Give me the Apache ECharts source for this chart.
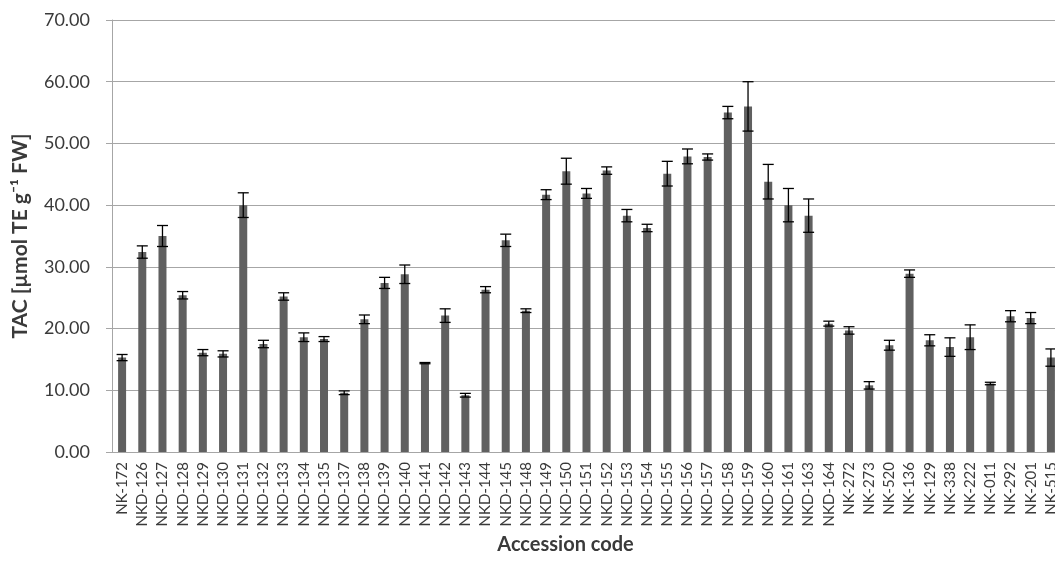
<!DOCTYPE html>
<html>
<head>
<meta charset="utf-8">
<script src="https://cdn.jsdelivr.net/npm/echarts@6/dist/echarts.min.js"></script>
<style>
  html, body { margin: 0; padding: 0; background: #fff; overflow: hidden; }
  #chartsL { width: 1055px; height: 563px; }
</style>
</head>
<body>
<div id="chartsL"></div>
<script>
// accession codes (x axis)
var codes = [
  "NK-172", "NKD-126", "NKD-127", "NKD-128", "NKD-129", "NKD-130", "NKD-131",
  "NKD-132", "NKD-133", "NKD-134", "NKD-135", "NKD-137", "NKD-138", "NKD-139",
  "NKD-140", "NKD-141", "NKD-142", "NKD-143", "NKD-144", "NKD-145", "NKD-148",
  "NKD-149", "NKD-150", "NKD-151", "NKD-152", "NKD-153", "NKD-154", "NKD-155",
  "NKD-156", "NKD-157", "NKD-158", "NKD-159", "NKD-160", "NKD-161", "NKD-163",
  "NKD-164", "NK-272", "NK-273", "NK-520", "NK-136", "NK-129", "NK-338",
  "NK-222", "NK-011", "NK-292", "NK-201", "NK-515"
];
// mean TAC values
var tac = [
  15.3, 32.4, 35.0, 25.4, 16.1, 15.9, 40.0,
  17.5, 25.2, 18.6, 18.3, 9.6, 21.5, 27.4,
  28.8, 14.4, 22.1, 9.2, 26.3, 34.3, 22.9,
  41.7, 45.5, 41.9, 45.6, 38.3, 36.3, 45.1,
  47.9, 47.8, 55.0, 56.0, 43.8, 40.0, 38.3,
  20.8, 19.7, 10.8, 17.3, 28.9, 18.1, 17.0,
  18.6, 11.1, 22.0, 21.7, 15.3
];
// standard deviation (error bars)
var sd = [
  0.5, 1.0, 1.7, 0.6, 0.5, 0.5, 2.0,
  0.6, 0.6, 0.7, 0.4, 0.3, 0.7, 0.9,
  1.5, 0.1, 1.1, 0.3, 0.5, 1.0, 0.3,
  0.8, 2.1, 0.8, 0.6, 1.0, 0.6, 2.0,
  1.2, 0.5, 1.0, 4.0, 2.8, 2.7, 2.7,
  0.4, 0.6, 0.6, 0.8, 0.6, 0.9, 1.5,
  2.0, 0.2, 0.9, 0.9, 1.4
];
var yTicks = { min: 0, max: 70, interval: 10 };

var font = "Lato, 'Noto Sans', sans-serif";
var txt = "#3a3a3a";
var gridCol = "#a6a6a6";

var errData = [];
for (var i = 0; i < tac.length; i++) {
  errData.push([i, tac[i] - sd[i], tac[i] + sd[i]]);
}

var myChart = echarts.init(document.getElementById("chartsL"));

var option = {
  animation: false,
  // plot runs past the right edge (last label is cut off in the original)
  grid: { left: 112, width: 949, top: 20, bottom: 111, outerBoundsMode: "none", containLabel: false },
  xAxis: {
    type: "category",
    data: codes,
    name: "Accession code",
    nameLocation: "middle",
    nameGap: 83,
    nameTextStyle: {
      fontFamily: font, fontWeight: "bold", fontSize: 20, color: txt,
      padding: [0, 42, 0, 0]
    },
    axisLine: { lineStyle: { color: gridCol } },
    axisTick: { show: false },
    axisLabel: {
      interval: 0,
      rotate: 90,
      margin: 10,
      fontFamily: font,
      fontSize: 15,
      color: txt
    }
  },
  yAxis: {
    type: "value",
    min: yTicks.min,
    max: yTicks.max,
    interval: yTicks.interval,
    name: "TAC [µmol TE g⁻¹ FW]",
    nameLocation: "middle",
    nameGap: 81,
    nameTextStyle: { fontFamily: font, fontWeight: "bold", fontSize: 21, color: txt },
    axisLine: { show: true, lineStyle: { color: gridCol } },
    axisTick: { show: true, length: 6, lineStyle: { color: gridCol } },
    axisLabel: {
      margin: 22,
      fontFamily: font,
      fontSize: 18,
      color: txt,
      formatter: function (v) { return v.toFixed(2); }
    },
    splitLine: { lineStyle: { color: gridCol, width: 1 } }
  },
  series: [
    {
      type: "bar",
      data: tac,
      barWidth: 8,
      itemStyle: { color: "#606060" }
    },
    {
      // error bars
      type: "custom",
      data: errData,
      z: 5,
      renderItem: function (params, api) {
        var x = api.value(0);
        var lo = api.coord([x, api.value(1)]);
        var hi = api.coord([x, api.value(2)]);
        var hw = 5.5;
        var st = { stroke: "#000", lineWidth: 1.3 };
        return {
          type: "group",
          children: [
            { type: "line", shape: { x1: lo[0], y1: lo[1], x2: hi[0], y2: hi[1] }, style: st },
            { type: "line", shape: { x1: hi[0] - hw, y1: hi[1], x2: hi[0] + hw, y2: hi[1] }, style: st },
            { type: "line", shape: { x1: lo[0] - hw, y1: lo[1], x2: lo[0] + hw, y2: lo[1] }, style: st }
          ]
        };
      }
    }
  ]
};

myChart.setOption(option);
</script>
</body>
</html>
